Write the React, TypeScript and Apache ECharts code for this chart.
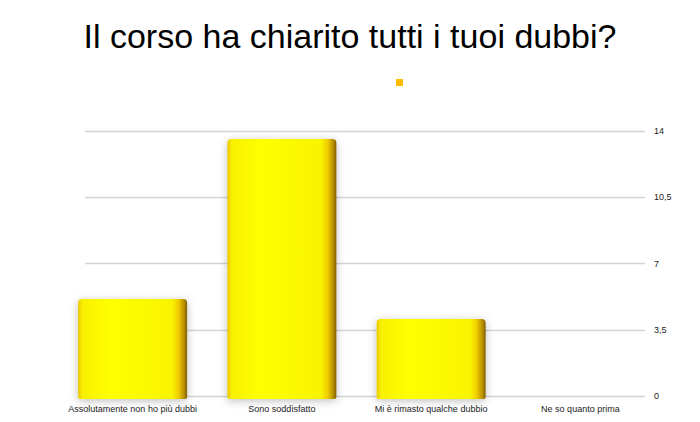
import React, { useEffect, useRef } from "react";
import * as echarts from "echarts";

const titleText = "Il corso ha chiarito tutti i tuoi dubbi?";
const categories = [
  "Assolutamente non ho più dubbi",
  "Sono soddisfatto",
  "Mi è rimasto qualche dubbio",
  "Ne so quanto prima",
];
const values = [5, 13, 4, 0];
const seriesName = " ";
const yMin = 0;
const yMax = 14;
const yInterval = 3.5;

export default function App() {
  const ref = useRef<HTMLDivElement>(null);
  useEffect(() => {
    document.body.style.margin = "0";
    if (!ref.current) return;
    const chart = echarts.init(ref.current, null, { renderer: "svg" });
    const barColor = new echarts.graphic.LinearGradient(0, 0, 1, 0, [
      { offset: 0, color: "#e8c800" },
      { offset: 0.04, color: "#f8f000" },
      { offset: 0.3, color: "#ffff00" },
      { offset: 0.86, color: "#f8f400" },
      { offset: 0.92, color: "#f0cc00" },
      { offset: 0.97, color: "#b89000" },
      { offset: 1, color: "#806000" },
    ]);
    chart.setOption({
      animation: false,
      backgroundColor: "#ffffff",
      title: {
        text: titleText,
        left: "center",
        top: 14,
        textStyle: {
          fontFamily: "Liberation Sans",
          fontSize: 34,
          fontWeight: "normal",
          color: "#000000",
        },
      },
      legend: {
        show: true,
        data: [{ name: seriesName, icon: "rect", itemStyle: { color: "#ffbb00" } }],
        left: 396,
        top: 79,
        padding: 0,
        itemWidth: 7,
        itemHeight: 7,
        itemGap: 0,
        formatter: () => "",
        textStyle: { fontSize: 1 },
      },
      grid: [
        { left: 85, right: 55, top: 131, bottom: 26 },
        { left: 58, right: 45, top: 119, bottom: 23 },
      ],
      xAxis: [
        {
          gridIndex: 0,
          type: "category",
          data: categories,
          show: false,
        },
        {
          gridIndex: 1,
          type: "category",
          data: categories,
          axisLine: { show: false },
          axisTick: { show: false },
          axisLabel: {
            fontFamily: "Liberation Sans",
            fontSize: 9,
            color: "#222222",
            margin: 5,
            interval: 0,
          },
        },
      ],
      yAxis: [
        {
          gridIndex: 0,
          type: "value",
          position: "right",
          min: yMin,
          max: yMax,
          interval: yInterval,
          axisLine: { show: false },
          axisTick: { show: false },
          axisLabel: {
            fontFamily: "Liberation Sans",
            fontSize: 9,
            color: "#222222",
            margin: 9,
            formatter: (v: number) => String(v).replace(".", ","),
          },
          splitLine: { lineStyle: { color: "#d4d4d4", width: 1.3 } },
        },
        {
          gridIndex: 1,
          type: "value",
          min: yMin,
          max: yMax,
          interval: yInterval,
          show: false,
          splitLine: { show: false },
        },
      ],
      series: [
        {
          name: seriesName,
          type: "bar",
          xAxisIndex: 1,
          yAxisIndex: 1,
          data: values,
          barWidth: 109,
          itemStyle: {
            color: barColor,
            borderRadius: [4, 4, 2, 2],
            shadowColor: "rgba(0,0,0,0.25)",
            shadowBlur: 8,
            shadowOffsetY: 2,
          },
        },
      ],
    });
    return () => chart.dispose();
  }, []);
  return <div ref={ref} style={{ width: 700, height: 422 }} />;
}
